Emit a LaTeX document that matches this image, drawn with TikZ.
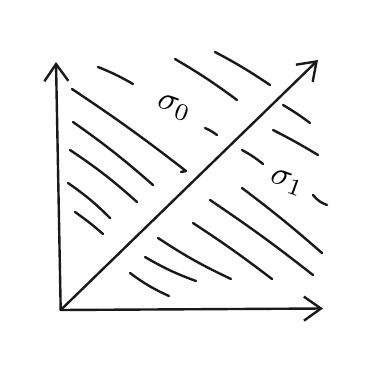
\documentclass[tikz,border=0pt]{standalone}
\usepackage{amsmath}
\usepackage{graphicx}
\usetikzlibrary{arrows.meta}
\tikzset{
  pen/.style={line width=2.4pt, line cap=round, line join=round, black!90},
  axis/.style={pen, -{Straight Barb[length=17pt, width=24pt, line width=2.4pt]}},
  hatch/.style={pen},
  siglabel/.style={inner sep=0pt, rotate=-20},
}
\newcommand{\siglab}[1]{\scalebox{3.4}{$\sigma_{#1}$}}

\begin{document}
\begin{tikzpicture}[x=1pt, y=-1pt]
  \useasboundingbox (0,0) rectangle (372,367);

  % axes and diagonal
  \coordinate (O) at (60.7,310);
  \coordinate (ytop) at (56,62);
  \coordinate (xend) at (323,308.5);
  \coordinate (dend) at (318,60);
  \draw[axis] (O) -- (ytop);
  \draw[axis] (O) -- (xend);
  \draw[axis] (O) -- (dend);

  % hatching above the diagonal
  \draw[hatch] (98,67) to[bend left=4] (133,84);
  \draw[hatch] (175,59) to[bend left=3] (237,100);
  \draw[hatch] (215,52) to[bend left=3] (270,85);
  \draw[hatch] (72,89) to[bend left=2] (186,171) -- (181,172);
  \draw[hatch] (73,122) to[bend left=3] (153,185);
  \draw[hatch] (70,150) to[bend left=4] (137,202);
  \draw[hatch] (68,183) to[bend left=5] (110,218);
  \draw[hatch] (75,212) to[bend left=3] (103,234);
  \draw[hatch] (205,128) to[bend left=6] (217,135);

  % hatching below the diagonal
  \draw[hatch] (283,105) to[bend left=3] (310,123);
  \draw[hatch] (273,130) to[bend left=2] (318,155);
  \draw[hatch] (242,150) to[bend left=5] (263,164);
  \draw[hatch] (313,195) to[bend right=15] (327,205);
  \draw[hatch] (242,188) to[bend left=2] (322,253);
  \draw[hatch] (210,200) to[bend left=2] (313,275);
  \draw[hatch] (193,223) to[bend left=2] (272,279);
  \draw[hatch] (158,238) to[bend right=4] (231,279);
  \draw[hatch] (145,257) to[bend right=5] (196,281);
  \draw[hatch] (130,273) to[bend right=6] (169,296);

  % region labels
  \node[siglabel] (s0) at (174,108) {\siglab{0}};
  \node[siglabel] (s1) at (287,183) {\siglab{1}};
\end{tikzpicture}
\end{document}
